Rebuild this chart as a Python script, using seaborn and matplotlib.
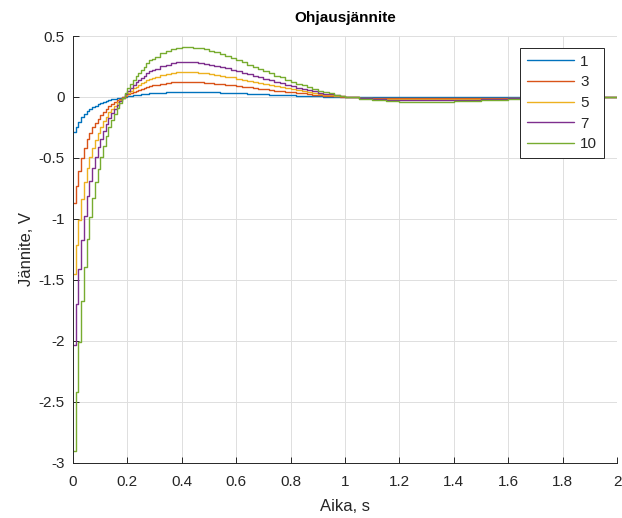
import matplotlib
matplotlib.use("Agg")
import matplotlib.pyplot as plt
import seaborn as sns
import pandas as pd
from matplotlib.ticker import FormatStrFormatter, MultipleLocator

# ---- data ----
t = [0.00, 0.01, 0.02, 0.03, 0.04, 0.05, 0.06, 0.07, 0.08, 0.09,
     0.10, 0.11, 0.12, 0.13, 0.14, 0.15, 0.16, 0.17, 0.18, 0.19,
     0.20, 0.21, 0.22, 0.23, 0.24, 0.25, 0.26, 0.27, 0.28, 0.29,
     0.30, 0.32, 0.34, 0.36, 0.38,
     0.40, 0.42, 0.44, 0.46, 0.48, 0.50, 0.52, 0.54, 0.56, 0.58,
     0.60, 0.62, 0.64, 0.66, 0.68, 0.70, 0.72, 0.74, 0.76, 0.78,
     0.80, 0.82, 0.84, 0.86, 0.88, 0.90, 0.92, 0.94, 0.96, 0.98,
     1.00, 1.05, 1.10, 1.15, 1.20, 1.25, 1.30, 1.40, 1.50, 1.60,
     1.70, 1.80, 1.90, 2.00]

u1 = [-0.290, -0.242, -0.201, -0.167, -0.139, -0.116, -0.098, -0.083, -0.070, -0.059,
      -0.049, -0.040, -0.032, -0.025, -0.019, -0.014, -0.009, -0.005, -0.001, 0.003,
      0.007, 0.011, 0.014, 0.017, 0.020, 0.023, 0.025, 0.028, 0.030, 0.032,
      0.033, 0.036, 0.038, 0.040, 0.041,
      0.041, 0.041, 0.041, 0.040, 0.039, 0.038, 0.037, 0.035, 0.034, 0.032,
      0.030, 0.029, 0.027, 0.025, 0.023, 0.021, 0.020, 0.018, 0.016, 0.014,
      0.013, 0.011, 0.010, 0.008, 0.007, 0.005, 0.004, 0.003, 0.002, 0.001,
      0.000, -0.002, -0.003, -0.004, -0.004, -0.004, -0.004, -0.004, -0.003, -0.002,
      -0.001, -0.001, 0.000, 0.000]

u3 = [-0.870, -0.726, -0.603, -0.501, -0.417, -0.348, -0.294, -0.249, -0.210, -0.177,
      -0.147, -0.120, -0.096, -0.075, -0.057, -0.042, -0.027, -0.015, -0.003, 0.009,
      0.021, 0.032, 0.042, 0.051, 0.060, 0.068, 0.075, 0.083, 0.090, 0.095,
      0.099, 0.108, 0.114, 0.119, 0.122,
      0.123, 0.123, 0.122, 0.120, 0.117, 0.114, 0.110, 0.105, 0.101, 0.096,
      0.090, 0.086, 0.080, 0.075, 0.069, 0.063, 0.059, 0.053, 0.048, 0.042,
      0.038, 0.033, 0.029, 0.024, 0.020, 0.015, 0.012, 0.009, 0.006, 0.003,
      0.000, -0.005, -0.008, -0.011, -0.012, -0.012, -0.012, -0.011, -0.008, -0.005,
      -0.003, -0.002, 0.000, 0.000]

u5 = [-1.450, -1.210, -1.005, -0.835, -0.695, -0.580, -0.490, -0.415, -0.350, -0.295,
      -0.245, -0.200, -0.160, -0.125, -0.095, -0.070, -0.045, -0.025, -0.005, 0.015,
      0.035, 0.053, 0.070, 0.085, 0.100, 0.113, 0.125, 0.138, 0.150, 0.158,
      0.165, 0.180, 0.190, 0.198, 0.203,
      0.205, 0.205, 0.203, 0.200, 0.195, 0.190, 0.183, 0.175, 0.168, 0.160,
      0.150, 0.143, 0.133, 0.125, 0.115, 0.105, 0.098, 0.088, 0.080, 0.070,
      0.063, 0.055, 0.048, 0.040, 0.033, 0.025, 0.020, 0.015, 0.010, 0.005,
      0.000, -0.008, -0.013, -0.018, -0.020, -0.020, -0.020, -0.018, -0.013, -0.008,
      -0.005, -0.003, 0.000, 0.000]

u7 = [-2.030, -1.694, -1.407, -1.169, -0.973, -0.812, -0.686, -0.581, -0.490, -0.413,
      -0.343, -0.280, -0.224, -0.175, -0.133, -0.098, -0.063, -0.035, -0.007, 0.021,
      0.049, 0.074, 0.098, 0.119, 0.140, 0.158, 0.175, 0.193, 0.210, 0.221,
      0.231, 0.252, 0.266, 0.277, 0.284,
      0.287, 0.287, 0.284, 0.280, 0.273, 0.266, 0.256, 0.245, 0.235, 0.224,
      0.210, 0.200, 0.186, 0.175, 0.161, 0.147, 0.137, 0.123, 0.112, 0.098,
      0.088, 0.077, 0.067, 0.056, 0.046, 0.035, 0.028, 0.021, 0.014, 0.007,
      0.000, -0.011, -0.018, -0.025, -0.028, -0.028, -0.028, -0.025, -0.018, -0.011,
      -0.007, -0.004, 0.000, 0.000]

u10 = [-2.900, -2.420, -2.010, -1.670, -1.390, -1.160, -0.980, -0.830, -0.700, -0.590,
       -0.490, -0.400, -0.320, -0.250, -0.190, -0.140, -0.090, -0.050, -0.010, 0.030,
       0.070, 0.105, 0.140, 0.170, 0.200, 0.225, 0.250, 0.275, 0.300, 0.315,
       0.330, 0.360, 0.380, 0.395, 0.405,
       0.410, 0.410, 0.405, 0.400, 0.390, 0.380, 0.365, 0.350, 0.335, 0.320,
       0.300, 0.285, 0.265, 0.250, 0.230, 0.210, 0.195, 0.175, 0.160, 0.140,
       0.125, 0.110, 0.095, 0.080, 0.065, 0.050, 0.040, 0.030, 0.020, 0.010,
       0.000, -0.015, -0.025, -0.035, -0.040, -0.040, -0.040, -0.035, -0.025, -0.015,
       -0.010, -0.005, 0.000, 0.000]

series_labels = ["1", "3", "5", "7", "10"]
series_values = [u1, u3, u5, u7, u10]
colors = ["#0072BD", "#D95319", "#EDB120", "#7E2F8E", "#77AC30"]

title = "Ohjausjännite"
xlabel = "Aika, s"
ylabel = "Jännite, V"

# ---- long table ----
rows = []
for lab, vals in zip(series_labels, series_values):
    for ti, vi in zip(t, vals):
        rows.append({"t": ti, "u": vi, "K": lab})
df = pd.DataFrame(rows)

sns.set_theme(style="white")
plt.rcParams["font.family"] = ["Liberation Sans", "DejaVu Sans"]
plt.rcParams["axes.unicode_minus"] = False

fig = plt.figure(figsize=(6.22, 5.18), dpi=100)
ax = fig.add_axes([0.1174, 0.1062, 0.8746, 0.8243])

sns.lineplot(data=df, x="t", y="u", hue="K", hue_order=series_labels,
             palette=colors, drawstyle="steps-post", linewidth=1.0,
             estimator=None, sort=False, ax=ax)

ax.set_xlim(0, 2)
ax.set_ylim(-3, 0.5)
ax.xaxis.set_major_locator(MultipleLocator(0.2))
ax.yaxis.set_major_locator(MultipleLocator(0.5))
ax.xaxis.set_major_formatter(FormatStrFormatter("%g"))
ax.yaxis.set_major_formatter(FormatStrFormatter("%g"))

ax.grid(True, color="#dedede", linewidth=0.7)
ax.set_axisbelow(True)
for name, s in ax.spines.items():
    if name in ("top", "right"):
        s.set_visible(False)
    else:
        s.set_color("#262626")
        s.set_linewidth(0.7)
ax.tick_params(direction="in", length=4, width=0.7, colors="#262626",
               labelsize=11, top=False, right=False, bottom=True, left=True)
ax.tick_params(axis="x", pad=9)
ax.tick_params(axis="y", pad=6)

ax.set_title(title, fontsize=11, fontweight="bold", color="black", pad=10)
ax.set_xlabel(xlabel, fontsize=12, color="#262626", labelpad=7)
ax.set_ylabel(ylabel, fontsize=12, color="#262626", labelpad=3)

leg = ax.legend(loc="upper right", bbox_to_anchor=(0.976, 0.972),
                fontsize=11, frameon=True, fancybox=False, handlelength=3.1,
                borderpad=0.45, labelspacing=0.43, handletextpad=0.4,
                borderaxespad=0.0, title=None)
leg.get_frame().set_edgecolor("#262626")
leg.get_frame().set_linewidth(0.7)
leg.get_frame().set_alpha(1.0)
for line in leg.get_lines():
    line.set_linewidth(1.0)

fig.savefig("out.png", dpi=100)
